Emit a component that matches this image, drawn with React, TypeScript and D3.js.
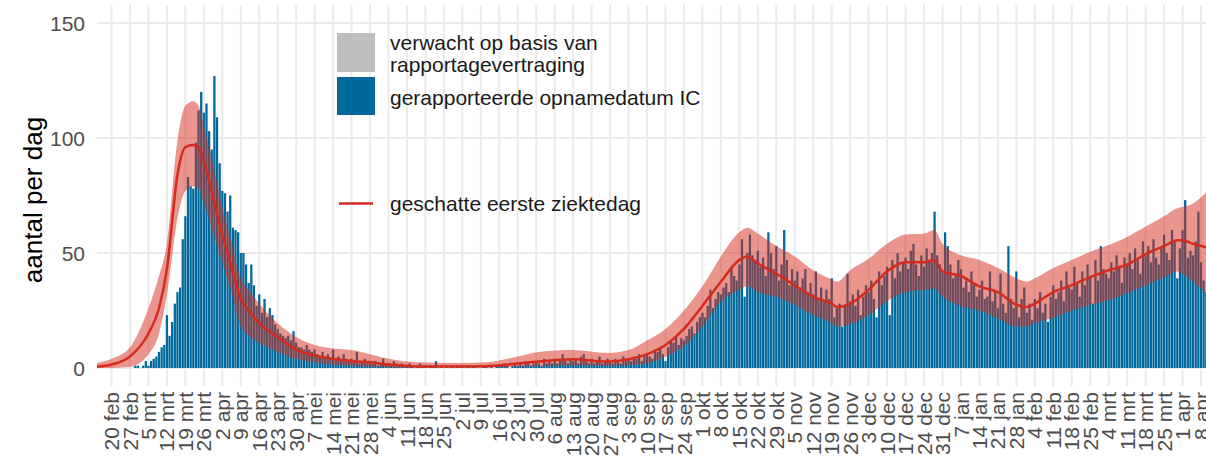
import React from 'react'
import * as d3 from 'd3'

// IC-opnames per dag, vanaf do 20 feb 2020 (één rij per week)
const icStart = '2020-02-20'
const icPerDag = [
  0, 0, 0, 0, 0, 0, 0,
  0, 0, 1, 1, 0, 1, 3,
  1, 3, 4, 5, 7, 9, 10,
  23, 14, 20, 28, 33, 35, 56,
  66, 83, 79, 78, 98, 112, 120,
  111, 115, 103, 95, 127, 109, 89,
  77, 76, 68, 75, 61, 60, 59,
  50, 50, 45, 37, 45, 36, 27,
  32, 24, 30, 22, 26, 23, 19,
  17, 15, 14, 13, 14, 12, 16,
  11, 9, 9, 8, 10, 8, 7,
  8, 6, 5, 7, 5, 6, 4,
  8, 4, 5, 3, 6, 4, 3,
  4, 3, 7, 2, 3, 4, 2,
  3, 2, 3, 1, 2, 4, 2,
  2, 1, 3, 2, 1, 2, 1,
  1, 2, 1, 0, 1, 2, 1,
  1, 0, 1, 1, 3, 0, 1,
  0, 1, 0, 1, 0, 1, 1,
  1, 0, 1, 0, 1, 1, 0,
  0, 1, 1, 0, 1, 0, 1,
  1, 1, 2, 1, 0, 1, 2,
  1, 2, 1, 3, 2, 1, 2,
  3, 2, 1, 4, 2, 3, 2,
  3, 2, 4, 6, 3, 2, 4,
  3, 4, 2, 5, 6, 3, 2,
  4, 2, 3, 5, 2, 3, 4,
  3, 2, 4, 3, 2, 5, 3,
  4, 3, 5, 4, 6, 3, 5,
  6, 5, 4, 8, 7, 9, 6,
  3, 9, 12, 11, 14, 10, 13,
  12, 14, 17, 18, 15, 20, 22,
  24, 22, 27, 34, 26, 30, 33,
  32, 35, 37, 33, 44, 40, 38,
  45, 56, 31, 50, 58, 49, 47,
  51, 44, 48, 40, 59, 50, 43,
  53, 38, 45, 60, 47, 36, 43,
  38, 42, 35, 39, 43, 33, 37,
  32, 42, 30, 35, 29, 34, 30,
  39, 22, 26, 28, 18, 27, 41,
  29, 32, 27, 34, 23, 31, 36,
  33, 38, 30, 22, 42, 36, 40,
  44, 23, 47, 39, 50, 42, 46,
  48, 43, 51, 54, 45, 40, 49,
  44, 52, 47, 50, 68, 49, 45,
  42, 59, 53, 45, 39, 41, 47,
  43, 35, 38, 33, 42, 36, 31,
  34, 38, 30, 31, 42, 29, 33,
  26, 41, 28, 24, 53, 30, 26,
  42, 22, 30, 35, 24, 28, 21,
  30, 26, 33, 24, 28, 20, 31,
  36, 30, 33, 38, 29, 42, 35,
  34, 44, 37, 31, 42, 36, 45,
  40, 28, 47, 38, 53, 43, 41,
  39, 46, 42, 49, 44, 37, 48,
  45, 50, 43, 52, 47, 41, 55,
  49, 53, 46, 56, 48, 45, 52,
  58, 50, 47, 60, 55, 39, 52,
  60, 73, 48, 51, 49, 55, 68,
  46, 38, 33,
]

// geschatte eerste ziektedag met onzekerheidsband
const bandDatums = [
  '2020-02-14', '2020-02-20', '2020-02-27', '2020-03-05', '2020-03-09', '2020-03-12',
  '2020-03-16', '2020-03-19', '2020-03-22', '2020-03-24', '2020-03-26', '2020-03-30',
  '2020-04-02', '2020-04-05', '2020-04-09', '2020-04-12', '2020-04-16', '2020-04-23',
  '2020-04-30', '2020-05-07', '2020-05-14', '2020-05-21', '2020-05-28', '2020-06-04',
  '2020-06-15', '2020-07-01', '2020-07-11', '2020-07-23', '2020-07-31', '2020-08-13',
  '2020-08-26', '2020-09-03', '2020-09-10', '2020-09-17', '2020-09-24', '2020-10-01',
  '2020-10-08', '2020-10-15', '2020-10-18', '2020-10-22', '2020-10-29', '2020-11-05',
  '2020-11-12', '2020-11-19', '2020-11-21', '2020-11-26', '2020-12-03', '2020-12-10',
  '2020-12-17', '2020-12-24', '2020-12-28', '2020-12-31', '2021-01-07', '2021-01-14',
  '2021-01-21', '2021-01-28', '2021-02-01', '2021-02-04', '2021-02-11', '2021-02-18',
  '2021-02-25', '2021-03-04', '2021-03-11', '2021-03-18', '2021-03-25', '2021-03-30',
  '2021-04-01', '2021-04-05', '2021-04-10',
]
const ziektedag = [
  0.5, 1.5, 5, 15, 26, 43,
  84, 96, 97, 96, 90, 72,
  58, 46, 30, 25, 19.5, 13.5,
  8, 5.5, 4, 3, 2.5, 1.5,
  0.7, 0.6, 0.8, 2, 2.8, 3.8,
  2.8, 3.8, 6, 10, 17, 27,
  37.5, 47, 48.5, 45.5, 41, 36,
  31, 28, 26.5, 28, 34, 42,
  46, 46, 47, 42, 40, 35.5,
  33, 27.5, 26.5, 28, 33, 36,
  39.5, 42.5, 45, 49.5, 53, 55.5,
  55.5, 54, 52.5,
]
const bandOnder = [
  0, 0, 0.5, 6, 15, 32,
  65, 77, 79, 78, 72, 57,
  46, 35, 18, 14, 11, 7,
  4, 2.5, 1.5, 1, 0.5, 0.3,
  0.2, 0.2, 0.2, 0.5, 0.8, 1.2,
  1, 1.3, 2, 5, 9.5, 18,
  29, 34, 35.5, 33, 31, 27.5,
  23, 19.5, 18, 19, 23, 29,
  33, 34, 34.5, 31, 27, 25,
  21.5, 18, 18, 19.5, 22, 25,
  27.5, 29.5, 32.5, 36, 39.5, 42,
  41, 37.5, 32.5,
]
const bandBoven = [
  2, 4, 9, 26, 40, 54,
  99, 114, 116, 114, 105, 86,
  70, 57, 39, 34, 28, 19.5,
  13.5, 10, 8.5, 7.8, 6, 4,
  2.5, 2.2, 2.5, 5, 7, 7.8,
  6.5, 7.8, 12, 17, 25, 35.5,
  48.5, 59, 61, 58.5, 53, 48.5,
  42.5, 38.5, 37.5, 42.5, 47.5, 54,
  58, 58.5, 60, 54, 49, 47,
  43.5, 39, 37.5, 39, 43.5, 47,
  50.5, 53.5, 57, 61.5, 66, 69.5,
  70, 71.5, 76.5,
]

const yTicks = [0, 50, 100, 150]
const maanden = ['jan', 'feb', 'mrt', 'apr', 'mei', 'jun', 'jul', 'aug', 'sep', 'okt', 'nov', 'dec']

const blauw = '#01689B'
const rood = '#D52B1E'
const font = '"Liberation Sans", Arial, Helvetica, sans-serif'

export default function App() {
  const width = 1206
  const height = 457
  const parse = d3.utcParse('%Y-%m-%d')

  const x = d3.scaleUtc()
    .domain([Date.UTC(2020, 1, 14, 12), Date.UTC(2021, 3, 10, 12)])
    .range([97, 97 + 421 * 2.638])
  const y = d3.scaleLinear().domain([0, 150]).range([368, 23])

  const start = parse(icStart) as Date
  const bars = icPerDag.map((v, i) => ({ date: d3.utcDay.offset(start, i), v }))
  const dayW = x(d3.utcDay.offset(start, 1)) - x(start)
  const barW = dayW * 0.86

  const band = bandDatums.map((d, i) => ({
    date: parse(d) as Date, mid: ziektedag[i], lo: bandOnder[i], hi: bandBoven[i],
  }))
  const area = d3.area<typeof band[0]>()
    .x(d => x(d.date)).y0(d => y(d.lo)).y1(d => y(d.hi))
    .curve(d3.curveMonotoneX)
  const line = d3.line<typeof band[0]>()
    .x(d => x(d.date)).y(d => y(d.mid))
    .curve(d3.curveMonotoneX)

  // wekelijkse ticks op donderdag
  const weekTicks = d3.range(0, 60).map(i => d3.utcDay.offset(start, i * 7))

  const panelTop = 5
  const panelBottom = 386
  const left = 97
  const right = 1206

  return (
    <svg width={width} height={height} style={{ position: 'absolute', left: 0, top: 0, background: '#fff' }}
      fontFamily={font}>
      <defs>
        <clipPath id="panel">
          <rect x={left} y={panelTop} width={right - left} height={panelBottom - panelTop} />
        </clipPath>
      </defs>

      {/* raster */}
      {yTicks.map(t => (
        <line key={'h' + t} x1={left} x2={right} y1={y(t)} y2={y(t)} stroke="#EBEBEB" strokeWidth={2} />
      ))}
      {weekTicks.map((t, i) => (
        <line key={'v' + i} x1={x(t)} x2={x(t)} y1={panelTop} y2={panelBottom} stroke="#EBEBEB" strokeWidth={2} />
      ))}

      <g clipPath="url(#panel)">
        {bars.filter(b => b.v > 0).map((b, i) => (
          <rect key={i} x={x(b.date) - barW / 2} y={y(b.v)} width={barW} height={y(0) - y(b.v)} fill={blauw} />
        ))}
        <path d={area(band) ?? ''} fill={rood} fillOpacity={0.5} />
        <path d={line(band) ?? ''} fill="none" stroke={rood} strokeWidth={2.5} />
      </g>

      {/* y-as */}
      {yTicks.map(t => (
        <text key={'yl' + t} x={85} y={y(t)} dy="0.36em" textAnchor="end" fontSize={21} fill="#4D4D4D">{t}</text>
      ))}
      <text transform="translate(33,200) rotate(-90)" textAnchor="middle" dy="0.36em" fontSize={26} fill="#000">
        aantal per dag
      </text>

      {/* x-as */}
      {weekTicks.map((t, i) => (
        <text key={'xl' + i} transform={`translate(${x(t)},392) rotate(-90)`} textAnchor="end" dy="0.36em"
          fontSize={21} fill="#4D4D4D">
          {`${t.getUTCDate()} ${maanden[t.getUTCMonth()]}`}
        </text>
      ))}

      {/* legenda */}
      <rect x={337} y={33} width={38} height={39} fill="#BEBEBE" />
      <rect x={337} y={77} width={38} height={38} fill={blauw} />
      <text x={390} y={50} fontSize={21} fill="#1A1A1A">verwacht op basis van</text>
      <text x={390} y={72} fontSize={21} fill="#1A1A1A">rapportagevertraging</text>
      <text x={390} y={105} fontSize={21} fill="#1A1A1A">gerapporteerde opnamedatum IC</text>
      <line x1={339} x2={373} y1={203.5} y2={203.5} stroke={rood} strokeWidth={2.5} />
      <text x={390} y={211} fontSize={21} fill="#1A1A1A">geschatte eerste ziektedag</text>
    </svg>
  )
}
